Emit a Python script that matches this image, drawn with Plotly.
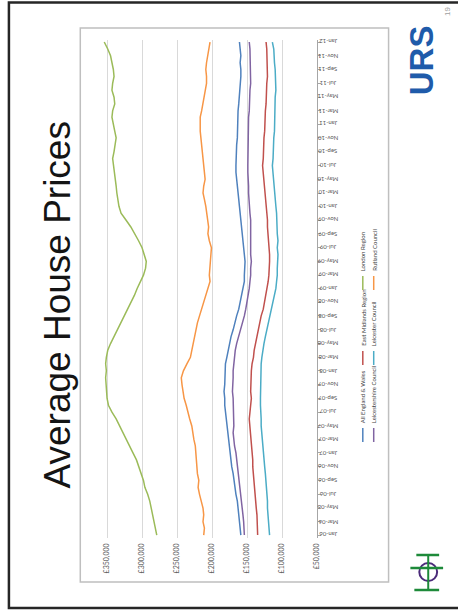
import pandas as pd
import plotly.graph_objects as go

# Monthly average prices (GBP thousands), Jan-06 .. Jan-12
months = pd.date_range("2006-01-01", "2012-01-01", freq="MS")

england_wales = [159, 160, 161, 162, 163, 164, 166, 167, 169, 170, 172, 173, 174, 175, 177, 178,
                 179, 180, 181, 182, 182, 183, 182, 182, 182, 181, 179, 177, 175, 173, 170, 168,
                 165, 162, 160, 158, 156, 154, 154, 153, 153, 154, 155, 156, 158, 159, 160, 160,
                 161, 162, 163, 164, 165, 166, 166, 166, 165, 165, 164, 164, 163, 163, 163, 162,
                 161, 160, 160, 159, 159, 160, 159, 160, 161]
east_midlands = [135, 135, 136, 136, 137, 138, 138, 139, 140, 141, 142, 142, 143, 144, 144, 145,
                 146, 147, 146, 145, 144, 145, 145, 144, 144, 143, 141, 140, 138, 136, 135, 132,
                 130, 127, 125, 123, 121, 120, 119, 118, 118, 118, 119, 119, 120, 121, 121, 122,
                 123, 124, 125, 126, 127, 127, 128, 127, 127, 126, 126, 125, 125, 124, 124, 123,
                 123, 122, 122, 121, 121, 121, 121, 122, 123]
london = [279, 281, 282, 285, 287, 289, 292, 296, 298, 301, 304, 308, 313, 318, 322, 327,
          332, 337, 343, 348, 350, 351, 352, 352, 351, 352, 351, 349, 345, 340, 336, 331,
          326, 321, 316, 311, 307, 302, 298, 295, 294, 297, 300, 305, 310, 316, 323, 330,
          333, 335, 336, 337, 338, 340, 341, 342, 340, 338, 337, 339, 341, 343, 342, 339,
          340, 343, 342, 340, 341, 343, 345, 349, 354]
leicestershire = [154, 154, 155, 156, 157, 158, 159, 160, 161, 162, 164, 165, 166, 168, 169, 170,
                  169, 169, 169, 170, 170, 171, 170, 170, 170, 169, 168, 167, 165, 162, 159, 156,
                  154, 152, 150, 148, 147, 146, 145, 145, 144, 145, 145, 144, 145, 145, 145, 146,
                  147, 147, 148, 148, 149, 149, 149, 149, 148, 148, 148, 148, 148, 148, 147, 147,
                  146, 146, 145, 145, 145, 145, 145, 146, 147]
leicester = [118, 119, 119, 120, 121, 121, 122, 123, 123, 124, 125, 126, 126, 127, 128, 129,
             130, 130, 131, 131, 131, 131, 131, 131, 130, 130, 129, 128, 126, 124, 122, 120,
             118, 116, 113, 111, 109, 108, 107, 107, 106, 106, 107, 106, 107, 107, 107, 108,
             109, 110, 110, 111, 112, 113, 114, 113, 113, 112, 112, 111, 111, 111, 111, 110,
             110, 109, 109, 109, 110, 111, 111, 112, 114]
rutland = [212, 211, 213, 212, 213, 216, 218, 220, 219, 221, 222, 223, 223, 224, 226, 227,
           229, 232, 234, 237, 240, 242, 243, 244, 241, 236, 231, 229, 227, 225, 224, 221,
           218, 215, 212, 210, 206, 203, 204, 203, 202, 201, 201, 204, 206, 205, 206, 208,
           209, 211, 213, 212, 210, 211, 212, 213, 214, 215, 216, 217, 217, 217, 215, 213,
           211, 210, 208, 208, 209, 208, 206, 204, 203]

series_names = ["All England & Wales", "East Midlands Region", "London Region",
                "Leicestershire Council", "Leicester Council", "Rutland Council"]
series_values = [england_wales, east_midlands, london, leicestershire, leicester, rutland]
series_colors = ["#4F81BD", "#C0504D", "#9BBB59", "#8064A2", "#4BACC6", "#F79646"]

price_ticks = [50000, 100000, 150000, 200000, 250000, 300000, 350000]
price_labels = ["£50,000", "£100,000", "£150,000", "£200,000", "£250,000", "£300,000", "£350,000"]
date_ticks = months[::2]
date_labels = [d.strftime("%b-%y") for d in date_ticks]

W, H = 458, 611


def px(x):
    return x / W


def py(y):
    return 1 - y / H


fig = go.Figure()
for name, vals, col in zip(series_names, series_values, series_colors):
    fig.add_trace(go.Scatter(
        x=[v * 1000 for v in vals], y=months, mode="lines", name=name,
        line=dict(color=col, width=1.5), hoverinfo="skip"))

shapes = []
annotations = []


def note(x, y, text, angle, font, **kw):
    d = dict(x=px(x), y=py(y), xref="paper", yref="paper", text=text, showarrow=False,
             textangle=angle, xanchor="center", yanchor="middle", font=font)
    d.update(kw)
    annotations.append(d)


# slide frame and chart frame
shapes.append(dict(type="rect", xref="paper", yref="paper", x0=px(9), x1=px(470),
                   y0=py(608), y1=py(2.5), line=dict(color="#262626", width=2.5)))
shapes.append(dict(type="rect", xref="paper", yref="paper", x0=px(81), x1=px(392),
                   y0=py(582), y1=py(28), line=dict(color="#bfbfbf", width=1.5)))

# date labels beside the category axis (upside-down, as on the rotated slide)
for d, lab in zip(date_ticks, date_labels):
    annotations.append(dict(x=px(331), xref="paper", y=d, yref="y", text=lab,
                            showarrow=False, textangle=180, xanchor="center", yanchor="middle",
                            font=dict(family="Lato", size=6, color="#595959")))

# legend: two rows of three entries laid out on a shared grid, running bottom to top
legend_rows = [(366, [0, 1, 2]), (377, [3, 4, 5])]
slot_starts = [442, 365, 290]   # where each grid slot begins (line end nearest the bottom)
line_len, gap = 14, 3
legend_font = dict(family="Lato", size=6, color="#404040")
for cx, idxs in legend_rows:
    for idx, start in zip(idxs, slot_starts):
        shapes.append(dict(type="line", xref="paper", yref="paper", x0=px(cx), x1=px(cx),
                           y0=py(start), y1=py(start - line_len),
                           line=dict(color=series_colors[idx], width=1.5)))
        note(cx, start - line_len - gap, series_names[idx], -90, legend_font, yanchor="bottom")

# title, page number and logos
note(57, 305, "Average House Prices", -90,
     dict(family="Liberation Sans", size=37, color="#141414"))
note(452, 12, "19", -90, dict(family="Liberation Sans", size=8, color="#a0a0a0"))
note(426, 60, "<b>URS</b>", -90, dict(family="Liberation Sans", size=33, color="#1F5BAA"))

green, purple = "#1e8a3a", "#4b2a7a"
shapes += [
    dict(type="circle", xref="paper", yref="paper", x0=px(423), x1=px(441), y0=py(581), y1=py(563),
         line=dict(color=purple, width=2)),
    dict(type="line", xref="paper", yref="paper", x0=px(420), x1=px(443), y0=py(555), y1=py(555),
         line=dict(color=green, width=2.5)),
    dict(type="line", xref="paper", yref="paper", x0=px(414), x1=px(447), y0=py(568), y1=py(568),
         line=dict(color=green, width=2.5)),
    dict(type="line", xref="paper", yref="paper", x0=px(432), x1=px(432), y0=py(555), y1=py(590),
         line=dict(color=green, width=2)),
    dict(type="line", xref="paper", yref="paper", x0=px(418), x1=px(443), y0=py(590), y1=py(590),
         line=dict(color=green, width=2.5)),
]

fig.update_layout(
    width=W, height=H, margin=dict(l=0, r=0, t=0, b=0),
    paper_bgcolor="white", plot_bgcolor="white", showlegend=False,
    shapes=shapes, annotations=annotations,
    xaxis=dict(domain=[px(100), px(320)], range=[361300, 50000],
               tickvals=price_ticks, ticktext=price_labels, tickangle=-90,
               showgrid=True, gridcolor="#d9d9d9", gridwidth=1, zeroline=False,
               showline=False, ticks="", ticklabelstandoff=3,
               tickfont=dict(family="Lato", size=7, color="#595959")),
    yaxis=dict(domain=[py(538), py(40)], type="date",
               range=["2005-12-19", "2012-01-10"], side="right",
               showline=True, linecolor="#a6a6a6", linewidth=1,
               tickvals=list(date_ticks), showticklabels=False,
               ticks="outside", ticklen=3, tickcolor="#a6a6a6",
               showgrid=False, zeroline=False),
)

fig.write_html("out.html")
